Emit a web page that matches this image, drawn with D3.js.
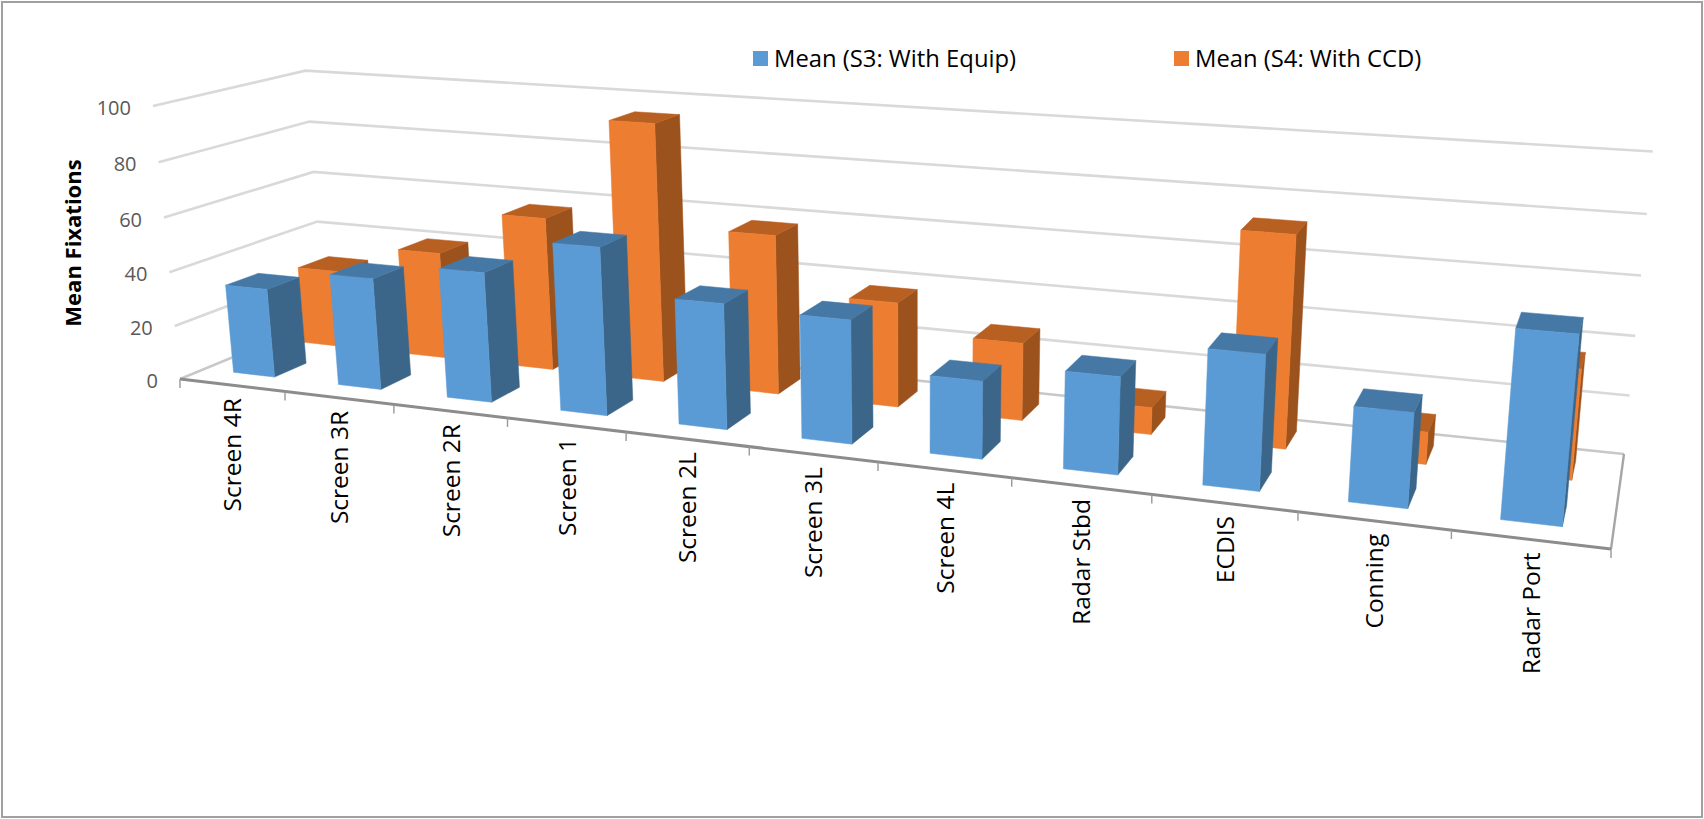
<!DOCTYPE html>
<html>
<head>
<meta charset="utf-8">
<style>
  html, body { margin: 0; padding: 0; background: #fff; }
  svg { display: block; }
  text { font-family: "Open Sans", sans-serif; }
</style>
<script src="https://cdnjs.cloudflare.com/ajax/libs/d3/7.8.5/d3.min.js"></script>
</head>
<body>
<svg id="chart" width="1704" height="819"></svg>
<script>
// Chart content
const categories = ["Screen 4R", "Screen 3R", "Screen 2R", "Screen 1", "Screen 2L", "Screen 3L",
                    "Screen 4L", "Radar Stbd", "ECDIS", "Conning", "Radar Port"];
const meanS3 = [33, 40.8, 46.8, 59.5, 43.9, 42.5, 26.4, 32.5, 44.3, 30.6, 59.3];
const meanS4 = [29.6, 40.3, 57, 94.4, 57.7, 37.5, 27.4, 9.4, 72.2, 10.9, 36.5];
const valueTicks = [0, 20, 40, 60, 80, 100];
const seriesNames = ["Mean (S3: With Equip)", "Mean (S4: With CCD)"];
const yAxisTitle = "Mean Fixations";

// Camera for the 3D box: floor corners (front-left, front-right, back-right, back-left),
// the point where all verticals converge, and the height gain at full scale.
const floorQuad = [[180, 379], [1611, 549], [1624, 454], [325, 319]];
const verticalVanish = [920, 7859];
const heightGain = 0.0352;
const heightFalloff = 0.014;

// Unit square to quadrilateral projective map; also returns the homogeneous weight.
function quadMap(q) {
  const [[x0, y0], [x1, y1], [x2, y2], [x3, y3]] = q;
  const dx1 = x1 - x2, dx2 = x3 - x2, sx = x0 - x1 + x2 - x3;
  const dy1 = y1 - y2, dy2 = y3 - y2, sy = y0 - y1 + y2 - y3;
  const den = dx1 * dy2 - dx2 * dy1;
  const g = (sx * dy2 - dx2 * sy) / den;
  const h = (dx1 * sy - sx * dy1) / den;
  const a = x1 - x0 + g * x1, b = x3 - x0 + h * x3;
  const d = y1 - y0 + g * y1, e = y3 - y0 + h * y3;
  return (u, v) => {
    const w = g * u + h * v + 1;
    return [(a * u + b * v + x0) / w, (d * u + e * v + y0) / w, w];
  };
}
const floorAt = quadMap(floorQuad);

// Scales: category slot along the width (with a slight easing across the middle
// of the floor), value up the height.
const n = categories.length;
const xScale = d3.scaleLinear()
  .domain([0, 1, 4, 6, 8, 10, 11])
  .range([0, 1.015 / n, 4.044 / n, 6.05 / n, 8.04 / n, 10.02 / n, 1]);
const valueScale = d3.scaleLinear().domain([0, 100]).range([0, heightGain]);

// (slot, depth, value) to screen position.
function project(slot, depth, value) {
  const u = xScale(slot);
  const [fx, fy, w] = floorAt(u, depth);
  const s = valueScale(value);
  const t = s / (w + heightFalloff * u - s);
  return [fx + (fx - verticalVanish[0]) * t, fy + (fy - verticalVanish[1]) * t];
}

const svg = d3.select("#chart");
const polyLine = d3.line();

// Outer frame
svg.append("rect").attr("x", 2).attr("y", 2).attr("width", 1700).attr("height", 815)
  .attr("fill", "#fff").attr("stroke", "#a0a0a0").attr("stroke-width", 2);

// Wall gridlines
const grid = svg.append("g").attr("fill", "none");
valueTicks.forEach(v => {
  grid.append("path")
    .attr("d", polyLine([project(0, 0, v), project(0, 1, v), project(n, 1, v)]))
    .attr("stroke", v === 0 ? "#c8c8c8" : "#d9d9d9")
    .attr("stroke-width", 2.6);
});

// Floor edges
svg.append("path").attr("fill", "none").attr("stroke", "#a6a6a6").attr("stroke-width", 2.4)
  .attr("d", polyLine([project(n, 1, 0), project(n, 0, 0)]));
svg.append("path").attr("fill", "none").attr("stroke", "#8c8c8c").attr("stroke-width", 3)
  .attr("d", polyLine([project(0, 0, 0), project(n, 0, 0)]));

// Category ticks below the front edge
svg.append("g").selectAll("line").data(d3.range(n + 1)).join("line")
  .attr("x1", i => project(i, 0, 0)[0])
  .attr("y1", i => project(i, 0, 0)[1])
  .attr("x2", i => project(i, 0, 0)[0])
  .attr("y2", i => project(i, 0, 0)[1] + 9)
  .attr("stroke", "#999").attr("stroke-width", 1.4);

// Bars: the rear row is painted first so the front row can cover it.
const barSlots = [0.285, 0.68];
const rows = [
  { values: meanS4, depth: [0.64, 0.86], front: "#ED7D31", side: "#9C521C", top: "#B85F22" },
  { values: meanS3, depth: [0.155, 0.37], front: "#5B9BD5", side: "#3B6689", top: "#4678A6" }
];
rows.forEach(row => {
  const [d0, d1] = row.depth;
  const g = svg.append("g");
  row.values.forEach((val, i) => {
    const l = i + barSlots[0], r = i + barSlots[1];
    const faces = [
      { fill: row.side, pts: [[r, d0, 0], [r, d1, 0], [r, d1, val], [r, d0, val]] },
      { fill: row.top, pts: [[l, d0, val], [r, d0, val], [r, d1, val], [l, d1, val]] },
      { fill: row.front, pts: [[l, d0, 0], [r, d0, 0], [r, d0, val], [l, d0, val]] }
    ];
    faces.forEach(face => {
      g.append("path")
        .attr("d", polyLine(face.pts.map(p => project(...p))) + "Z")
        .attr("fill", face.fill).attr("stroke", face.fill).attr("stroke-width", 0.5);
    });
  });
});

// Value labels beside the left wall
svg.append("g").selectAll("text").data(valueTicks).join("text")
  .attr("x", v => project(0, 0, v)[0] - 22)
  .attr("y", v => project(0, 0, v)[1] + 9)
  .attr("text-anchor", "end")
  .attr("font-size", 20)
  .attr("fill", "#595959")
  .text(v => v);

// Rotated category labels
svg.append("g").selectAll("text").data(categories).join("text")
  .attr("transform", (c, i) => {
    const p = project(i + 0.5, 0, 0);
    return `translate(${p[0] + 9.5},${p[1] + 13}) rotate(-90)`;
  })
  .attr("text-anchor", "end")
  .attr("font-size", 24.5)
  .attr("fill", "#000")
  .text(c => c);

// Axis title
svg.append("text")
  .attr("transform", "translate(81,243) rotate(-90)")
  .attr("text-anchor", "middle")
  .attr("font-size", 22)
  .attr("font-weight", 700)
  .attr("fill", "#000")
  .text(yAxisTitle);

// Legend
const legendX = d3.scaleOrdinal().domain(seriesNames).range([753, 1174]);
const legendFill = d3.scaleOrdinal().domain(seriesNames).range(["#5B9BD5", "#ED7D31"]);
const legend = svg.append("g").selectAll("g").data(seriesNames).join("g")
  .attr("transform", s => `translate(${legendX(s)},51)`);
legend.append("rect").attr("width", 15).attr("height", 15).attr("fill", s => legendFill(s));
legend.append("text").attr("x", 21).attr("y", 16).attr("font-size", 23.8).attr("fill", "#000").text(s => s);
</script>
</body>
</html>
